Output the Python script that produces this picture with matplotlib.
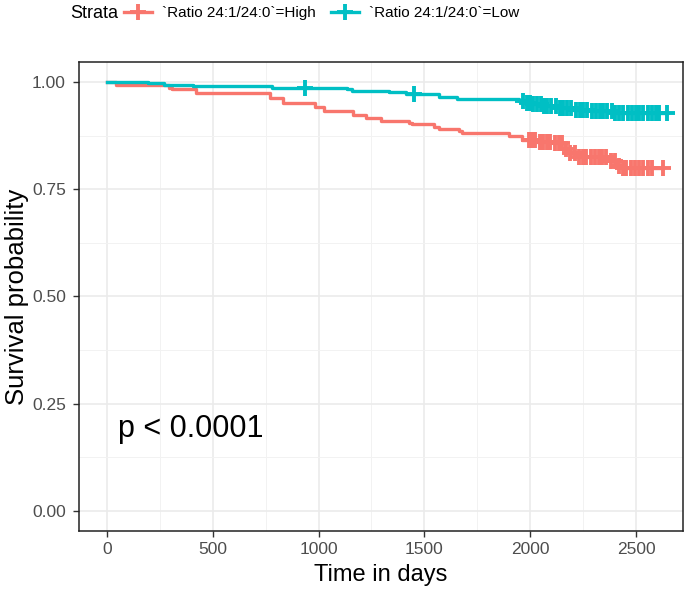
import numpy as np
import matplotlib
matplotlib.use("Agg")
import matplotlib.pyplot as plt
from matplotlib.lines import Line2D

plt.rcParams['font.family'] = ['Liberation Sans', 'DejaVu Sans']

# Kaplan-Meier steps
t_high = [0, 42, 292, 307, 420, 769, 830, 981, 1028, 1165, 1226, 1297, 1429, 1443,
          1547, 1571, 1665, 1679, 1901, 1962, 2030, 2110, 2165, 2190, 2215, 2380,
          2405, 2430, 2627]
s_high = [1.000, 0.994, 0.987, 0.984, 0.975, 0.963, 0.951, 0.942, 0.932, 0.923,
          0.916, 0.909, 0.904, 0.902, 0.895, 0.890, 0.886, 0.881, 0.874, 0.864,
          0.860, 0.857, 0.845, 0.835, 0.825, 0.815, 0.805, 0.799, 0.799]

t_low = [0, 193, 269, 406, 778, 1132, 1160, 1335, 1415, 1571, 1656, 1948, 1975,
         2010, 2060, 2130, 2200, 2290, 2390, 2646]
s_low = [1.000, 0.997, 0.993, 0.990, 0.987, 0.983, 0.980, 0.977, 0.973, 0.965,
         0.961, 0.957, 0.952, 0.948, 0.944, 0.940, 0.936, 0.932, 0.928, 0.928]

# censored times
cens_high = [1995, 2010, 2025, 2045, 2060, 2080, 2095, 2115, 2135, 2150, 2170,
             2190, 2210, 2230, 2250, 2265, 2285, 2305, 2325, 2340, 2360, 2380,
             2400, 2420, 2440, 2455, 2475, 2495, 2515, 2535, 2555, 2577, 2627]
cens_low = [934, 1453, 1965, 1985, 2000, 2015, 2030, 2050, 2065, 2080, 2100, 2120,
            2140, 2155, 2175, 2195, 2215, 2235, 2250, 2270, 2290, 2310, 2330, 2345,
            2365, 2385, 2400, 2420, 2440, 2460, 2480, 2500, 2515, 2535, 2555, 2575,
            2595, 2610, 2646]

labels = ["`Ratio 24:1/24:0`=High", "`Ratio 24:1/24:0`=Low"]
colors = ["#F8766D", "#00BFC4"]
x_ticks = [0, 500, 1000, 1500, 2000, 2500]
y_ticks = [0.00, 0.25, 0.50, 0.75, 1.00]
p_text = "p < 0.0001"


def surv_at(times, surv, t):
    idx = np.searchsorted(times, t, side='right') - 1
    return np.asarray(surv)[idx]


fig = plt.figure(figsize=(6.85, 5.93), dpi=100)
ax = fig.add_axes([79 / 685, 1 - 531 / 593, 604 / 685, 469 / 593])

for t, s, c, col in [(t_high, s_high, cens_high, colors[0]),
                     (t_low, s_low, cens_low, colors[1])]:
    ax.step(t, s, where='post', color=col, lw=2.4, zorder=3)
    ax.plot(c, surv_at(t, s, c), ls='none', marker='+', ms=12, mew=2.8,
            color=col, zorder=3)

ax.set_xlim(-132, 2722)
ax.set_ylim(-0.047, 1.047)
ax.set_xticks(x_ticks)
ax.set_yticks(y_ticks)
ax.set_yticklabels([f"{v:.2f}" for v in y_ticks])
ax.set_xticks([250, 750, 1250, 1750, 2250], minor=True)
ax.set_yticks([0.125, 0.375, 0.625, 0.875], minor=True)
ax.grid(which='major', color='#EBEBEB', lw=1.2, zorder=0)
ax.grid(which='minor', color='#F2F2F2', lw=0.7, zorder=0)
ax.tick_params(which='major', direction='out', length=4.5, width=1, color='#333333',
               labelsize=12.5, labelcolor='#4D4D4D')
ax.tick_params(axis='y', pad=5)
ax.tick_params(which='minor', length=0)
for sp in ax.spines.values():
    sp.set_color('#222222')
    sp.set_linewidth(1.1)

ax.set_xlabel("Time in days", fontsize=17, labelpad=5)
ax.set_ylabel("Survival probability", fontsize=18.5, labelpad=2)
ax.text(50, 0.19, p_text, fontsize=22, ha='left', va='center')

fig.text(70 / 685, 1 - 13 / 593, "Strata", fontsize=13, ha='left', va='center')
handles = [Line2D([], [], color=col, lw=2.4, marker='+', ms=12, mew=2.8)
           for col in colors]
fig.legend(handles, labels, loc='center left', bbox_to_anchor=(124 / 685, 1 - 13 / 593),
           ncol=2, frameon=False, fontsize=11, handlelength=1.8, handletextpad=0.7,
           columnspacing=1.0, borderaxespad=0, borderpad=0)

fig.savefig("out.png", dpi=100)
